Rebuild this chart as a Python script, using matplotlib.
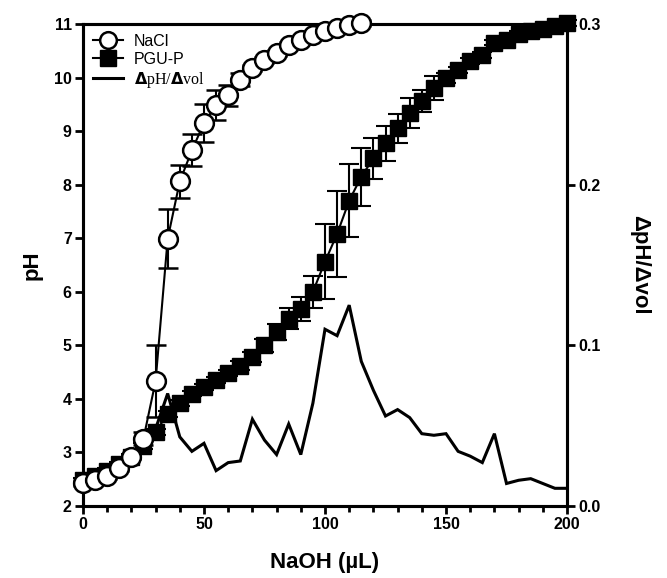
## LIBRARY------------------------------------------------------------------------
import matplotlib
matplotlib.use('Agg')
import matplotlib.pyplot as plt
import matplotlib.ticker as ticker
from matplotlib.lines import Line2D
## -------------------------------------------------------------------------------

## DATA---------------------------------------------------------------------------
# NaCl titration (open circles)
nacl_vol = [0, 5, 10, 15, 20, 25, 30, 35, 40, 45, 50, 55, 60, 65, 70, 75, 80, 85,
            90, 95, 100, 105, 110, 115]
nacl_ph = [2.43, 2.49, 2.56, 2.71, 2.92, 3.26, 4.33, 6.99, 8.06, 8.64, 9.15, 9.49,
           9.67, 9.96, 10.18, 10.33, 10.46, 10.61, 10.70, 10.80, 10.87, 10.93, 10.99, 11.02]
nacl_err = [0.05, 0.05, 0.05, 0.05, 0.05, 0.12, 0.67, 0.55, 0.31, 0.30, 0.36, 0.28,
            0.20, 0.12, 0.05, 0.05, 0.05, 0.05, 0.05, 0.05, 0.05, 0.05, 0.05, 0.05]

# PGU-P titration (filled squares)
pgu_vol = [0, 5, 10, 15, 20, 25, 30, 35, 40, 45, 50, 55, 60, 65, 70, 75, 80, 85, 90,
           95, 100, 105, 110, 115, 120, 125, 130, 135, 140, 145, 150, 155, 160, 165,
           170, 175, 180, 185, 190, 195, 200]
pgu_ph = [2.48, 2.56, 2.66, 2.78, 2.92, 3.12, 3.38, 3.72, 3.92, 4.10, 4.22, 4.35, 4.48,
          4.62, 4.78, 5.00, 5.25, 5.50, 5.68, 6.00, 6.56, 7.08, 7.70, 8.15, 8.49, 8.77,
          9.05, 9.34, 9.56, 9.80, 9.99, 10.14, 10.31, 10.42, 10.65, 10.71, 10.81, 10.86,
          10.91, 10.97, 11.02]
pgu_err = [0.05, 0.05, 0.05, 0.05, 0.05, 0.05, 0.05, 0.05, 0.05, 0.05, 0.05, 0.05, 0.05,
           0.08, 0.10, 0.12, 0.15, 0.20, 0.22, 0.30, 0.70, 0.80, 0.68, 0.54, 0.38, 0.32,
           0.27, 0.28, 0.20, 0.22, 0.10, 0.05, 0.05, 0.05, 0.05, 0.05, 0.05, 0.05,
           0.05, 0.05, 0.05]

# first derivative (right axis)
deriv_vol = [30, 35, 40, 45, 50, 55, 60, 65, 70, 75, 80, 85, 90, 95, 100, 105, 110,
             115, 120, 125, 130, 135, 140, 145, 150, 155, 160, 165, 170, 175, 180,
             185, 190, 195, 200]
deriv_val = [0.048, 0.070, 0.043, 0.034, 0.039, 0.022, 0.027, 0.028, 0.054, 0.041,
             0.032, 0.051, 0.032, 0.064, 0.110, 0.106, 0.125, 0.090, 0.072, 0.056,
             0.060, 0.055, 0.045, 0.044, 0.045, 0.034, 0.031, 0.027, 0.045, 0.014,
             0.016, 0.017, 0.014, 0.011, 0.011]

labels = ['NaCl', 'PGU-P', r'$\mathbf{\Delta}$pH/$\mathbf{\Delta}$vol']
## -------------------------------------------------------------------------------

plt.rcParams['font.family'] = 'Liberation Sans'
font_size = 11.5
label_size = 16
spine_lw = 2.2

fig = plt.figure(figsize=(6.67, 5.78), dpi=100)
ax = fig.add_axes([0.1244, 0.1246, 0.7257, 0.8339])
ax2 = ax.twinx()
# main axes on top so the derivative sits behind the markers
ax.set_zorder(ax2.get_zorder() + 1)
ax.patch.set_visible(False)

# derivative
ax2.plot(deriv_vol, deriv_val, color='k', lw=2.2, solid_joinstyle='miter')

# PGU-P
eb1 = ax.errorbar(pgu_vol, pgu_ph, yerr=pgu_err, fmt='-s', color='k', ms=12,
                  mfc='k', mec='k', lw=1.5, elinewidth=1.5, capsize=7, capthick=1.5,
                  zorder=2)
# NaCl
eb2 = ax.errorbar(nacl_vol, nacl_ph, yerr=nacl_err, fmt='-o', color='k', ms=13.5,
                  mfc='white', mec='k', mew=1.8, lw=1.5, elinewidth=1.5, capsize=7,
                  capthick=1.5, zorder=3)
for eb in (eb1, eb2):
    for art in eb.get_children():
        art.set_clip_on(False)

## LEGEND---------------------------------------------------------------------------
handles = [
    Line2D([], [], color='k', marker='o', ms=12, mfc='white', mec='k', mew=1.8, lw=1.5),
    Line2D([], [], color='k', marker='s', ms=12, mfc='k', mec='k', lw=1.5),
    Line2D([], [], color='k', lw=2.2),
]
leg = ax.legend(handles, labels, loc='upper left', frameon=False, fontsize=11.5,
                handlelength=1.9, handletextpad=0.7, labelspacing=0.2,
                borderaxespad=0.2)
leg.get_texts()[2].set_fontfamily('Liberation Serif')

## PLOT SETTING---------------------------------------------------------------------
ax.set_xlim(0, 200)
ax.set_ylim(2, 11)
ax2.set_ylim(0, 0.3)

ax.set_xticks([0, 50, 100, 150, 200])
ax.xaxis.set_minor_locator(ticker.MultipleLocator(10))
ax.set_yticks(range(2, 12))
ax2.set_yticks([0.0, 0.1, 0.2, 0.3])
ax2.yaxis.set_major_formatter(ticker.FormatStrFormatter('%.1f'))

for a in (ax, ax2):
    a.tick_params(which='major', direction='out', length=6, width=2,
                  labelsize=font_size, pad=2)
    a.tick_params(which='minor', direction='out', length=4, width=2)
    for lab in a.get_xticklabels() + a.get_yticklabels():
        lab.set_fontweight('bold')
    for spine in a.spines.values():
        spine.set_linewidth(spine_lw)

ax.set_xlabel('NaOH (µL)', fontsize=label_size, fontweight='bold', labelpad=14)
ax.set_ylabel('pH', fontsize=label_size, fontweight='bold', labelpad=8)
ax2.set_ylabel('ΔpH/Δvol', fontsize=label_size, fontweight='bold', rotation=270,
               labelpad=36)

fig.savefig('out.png', dpi=100)
